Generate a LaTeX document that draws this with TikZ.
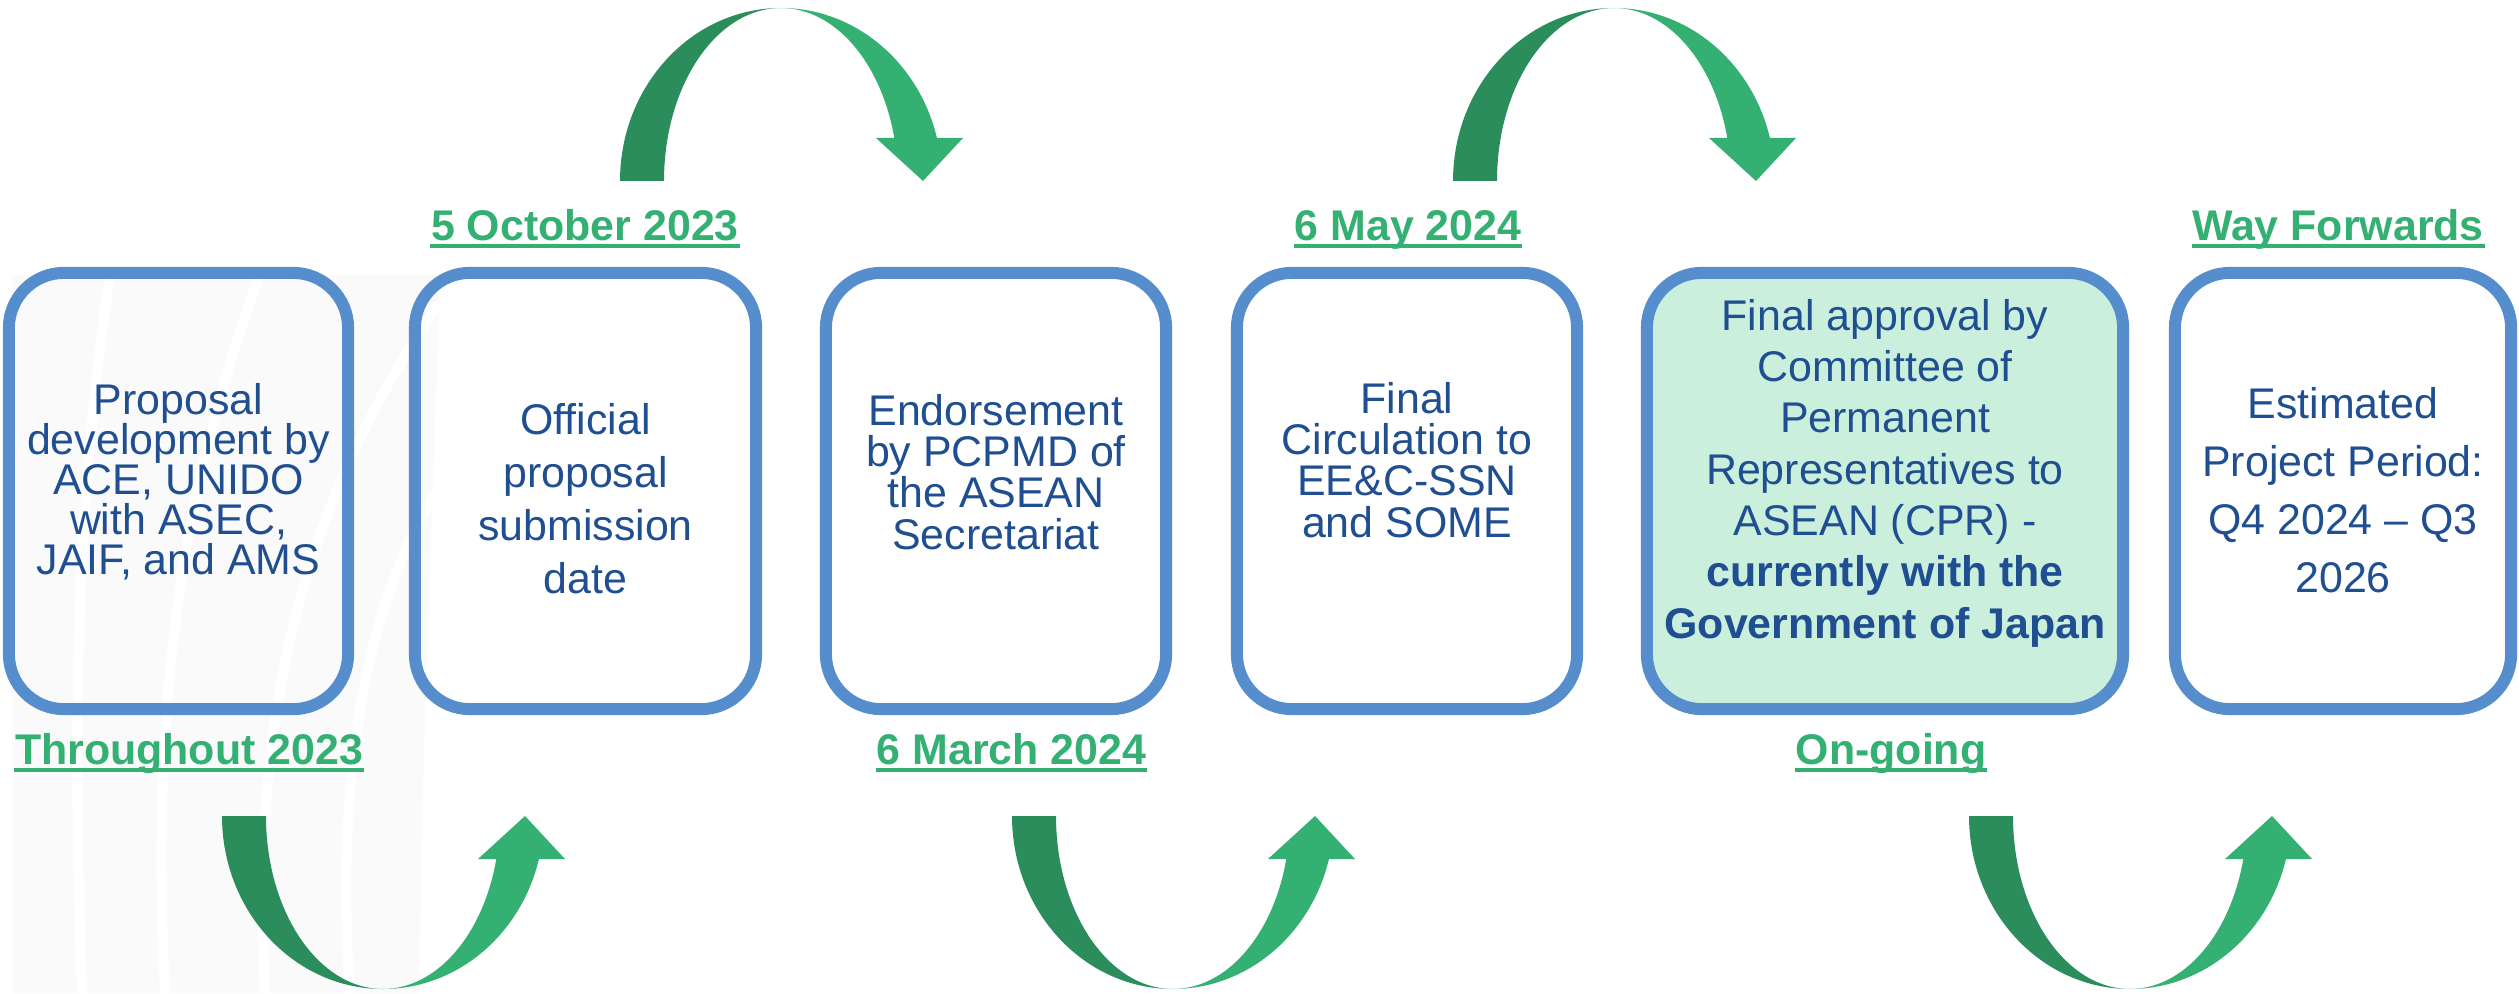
\documentclass[tikz,border=0pt]{standalone}
\usepackage{fontspec}
\setmainfont{Liberation Sans}
\definecolor{boxblue}{HTML}{568ECD}
\definecolor{txtblue}{HTML}{1F4E91}
\definecolor{lblgreen}{HTML}{35B073}
\definecolor{arrowdark}{HTML}{2B8D5C}
\definecolor{arrowlight}{HTML}{35B073}
\definecolor{boxfill}{HTML}{CAEFDC}
\definecolor{bgstripe}{HTML}{FAFAFA}
\newcommand\bendarrow[3]{%
  \begin{scope}[shift={(#1,#2)},yscale=#3]
    \fill[arrowdark] (-161,0) arc[start angle=180,end angle=90,x radius=161,y radius=173]
      arc[start angle=90,end angle=180,x radius=117,y radius=173] -- cycle;
    \fill[arrowlight] (0,173) arc[start angle=90,end angle=14.4,x radius=161,y radius=173]
      -- (182,43) -- (142,0) -- (95,43) -- (113.3,43)
      arc[start angle=14.4,end angle=90,x radius=117,y radius=173] -- cycle;
  \end{scope}}
\begin{document}
\begin{tikzpicture}[x=0.01cm,y=0.01cm]
\tikzset{
  stepbox/.style={draw=boxblue, line width=0.12cm, rounded corners=0.55cm, minimum height=4.36cm, inner sep=0pt},
  boxtext/.style={text=txtblue, align=center, inner sep=0pt, font=\fontsize{12.2}{11.4}\selectfont},
  datelabel/.style={text=lblgreen, font=\fontsize{12.2}{14}\selectfont\bfseries, inner sep=0pt, anchor=base},
  ul/.style={draw=lblgreen, line width=0.04cm},
  gap/.style={draw=white, line width=0.1cm}
}
\useasboundingbox (0,0) rectangle (2519,993);
\fill[white] (0,0) rectangle (2519,993);

% faint background stripes (lower left)
\fill[bgstripe] (12,718) -- (440,718) .. controls (430,400) and (420,200) .. (420,0) -- (12,0) -- cycle;
\draw[gap] (110,718) .. controls (70,450) and (75,200) .. (82,0);
\draw[gap] (260,718) .. controls (160,450) and (155,200) .. (165,0);
\draw[gap] (440,690) .. controls (270,450) and (255,200) .. (265,0);
\draw[gap] (435,500) .. controls (345,350) and (340,150) .. (350,0);

% boxes
\node[stepbox, minimum width=3.39cm, fill=white, fill opacity=0] (b1) at (178.5,502) {};
\node[stepbox, minimum width=3.41cm] (b2) at (585.5,502) {};
\node[stepbox, minimum width=3.40cm] (b3) at (996,502) {};
\node[stepbox, minimum width=3.40cm] (b4) at (1407,502) {};
\node[stepbox, minimum width=4.76cm, fill=boxfill] (b5) at (1885,502) {};
\node[stepbox, minimum width=3.36cm] (b6) at (2343,502) {};

% box texts
\node[boxtext] (t1) at (178.5,511) {Proposal\\development by\\ACE, UNIDO\\with ASEC,\\JAIF, and AMS};
\node[boxtext, font=\fontsize{12.2}{15.1}\selectfont] (t2) at (585.5,494) {Official\\proposal\\submission\\date};
\node[boxtext, font=\fontsize{12.2}{11.7}\selectfont] (t3) at (996,521) {Endorsement\\by PCPMD of\\the ASEAN\\Secretariat};
\node[boxtext, font=\fontsize{12.2}{11.7}\selectfont] (t4) at (1407,533) {Final\\Circulation to\\EE\&C-SSN\\and SOME};
\node[boxtext, font=\fontsize{12.2}{14.6}\selectfont] (t5) at (1885,520) {Final approval by\\Committee of\\Permanent\\Representatives to\\ASEAN (CPR) -\\\textbf{currently with the}\\\textbf{Government of Japan}};
\node[boxtext, font=\fontsize{12.2}{16.5}\selectfont] (t6) at (2343,503) {Estimated\\Project Period:\\Q4 2024 – Q3\\2026};

% date labels
\node[datelabel] (l1) at (585,753) {5 October 2023};
\node[datelabel] (l2) at (1408,753) {6 May 2024};
\node[datelabel] (l3) at (2338,753) {Way Forwards};
\node[datelabel] (l4) at (189,229) {Throughout 2023};
\node[datelabel, anchor=base west] (l5) at (876,229) {6 March 2024\ };
\node[datelabel] (l6) at (1891,229) {On-going};
\foreach \l in {l1,l2,l3,l4,l5,l6}{
  \draw[ul] ([yshift=-0.06cm]\l.base west) -- ([yshift=-0.06cm]\l.base east);
}

% curved arrows
\bendarrow{781}{812}{1}
\bendarrow{1614}{812}{1}
\bendarrow{383}{177}{-1}
\bendarrow{1173}{177}{-1}
\bendarrow{2130}{177}{-1}
\end{tikzpicture}
\end{document}
